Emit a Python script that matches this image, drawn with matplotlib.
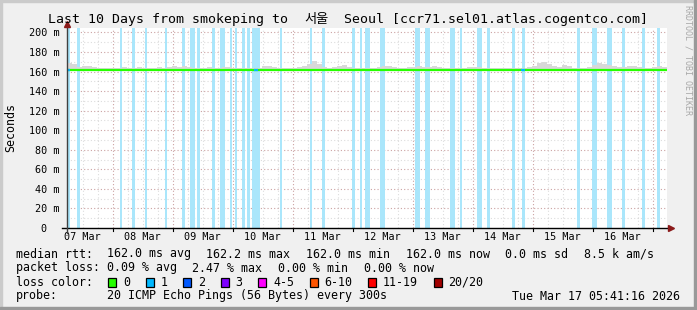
import matplotlib
matplotlib.use("Agg")
import matplotlib.pyplot as plt
from matplotlib.patches import Rectangle
from datetime import datetime, timedelta
import numpy as np

plt.rcParams['font.family'] = ['DejaVu Sans Mono', 'Noto Sans CJK KR']

# ---------------- data ----------------
end_time = datetime(2026, 3, 17, 5, 41, 16)
start_time = end_time - timedelta(days=10)

# loss (1/20) background bars: start offset (hours from start) and width (hours)
loss_start_h = [0.0, 4.0, 21.2, 26.0, 31.2, 39.2, 46.0, 49.2, 52.0, 58.0,
                61.2, 65.2, 67.2, 70.0, 72.0, 74.0, 85.2, 97.2, 102.0, 114.0,
                117.2, 119.2, 125.2, 139.2, 143.2, 153.2, 157.2, 164.0, 168.0, 178.0,
                182.0, 204.0, 210.0, 216.0, 222.0, 230.0, 236.0]
loss_width_h = [1.2, 1.2, 0.8, 1.2, 0.8, 0.8, 1.2, 2.0, 1.2, 1.2,
                2.0, 0.8, 0.8, 1.2, 1.2, 3.2, 0.8, 0.8, 1.2, 1.2,
                0.8, 2.0, 2.0, 2.0, 2.0, 2.0, 0.8, 2.0, 1.2, 1.2,
                1.2, 1.2, 2.0, 2.0, 1.2, 1.2, 1.2]

# smoke (ping spread) top per 2 h step
smoke_step_h = 2
smoke_top = [169, 168, 165, 166, 166, 165, 164, 164, 163.5, 164,
             164, 164.5, 164, 164, 165, 164, 164, 164, 164.5, 164,
             165, 166, 165, 166, 165, 164, 164, 164, 165, 164,
             164, 165, 165, 164, 164, 164, 164, 164, 164, 166,
             166, 165, 164, 164, 164, 164, 165, 166, 168, 171,
             168, 165, 164, 165, 166, 167, 165, 164, 164, 164,
             164, 164, 165, 166, 166, 165, 164, 164, 165, 165,
             166, 165, 165, 166, 165, 164, 164, 164, 164, 164,
             165, 165, 165, 164, 164, 164, 164, 164, 164, 164,
             164, 164, 165, 166, 169, 170, 168, 166, 165, 167,
             166, 164, 164, 164, 165, 167, 169, 168, 167, 166,
             165, 165, 166, 166, 165, 164, 164, 165, 166, 165]
smoke_bottom = 161.4

# median rtt per 6 h step
median_step_h = 6
median_rtt = [162.0] * 40
# spans (hours) where the median line is drawn in loss colour "1"
median_blue_start_h = [0.0, 74.8, 181.6]
median_blue_width_h = [1.2, 1.6, 1.6]

y_ticks = [0, 20, 40, 60, 80, 100, 120, 140, 160, 180, 200]
y_tick_labels = ["0  ", "20 m", "40 m", "60 m", "80 m", "100 m", "120 m",
                 "140 m", "160 m", "180 m", "200 m"]

loss_labels = ["0", "1", "2", "3", "4-5", "6-10", "11-19", "20/20"]
loss_colors = ["#26ff00", "#00b8ff", "#0059ff", "#7e00ff", "#ff00ff",
               "#ff5500", "#ff0000", "#a10000"]

# ---------------- layout helpers ----------------
W, H = 697, 310
def fx(px):
    return px / W
def fy(py):
    return 1 - py / H

fig = plt.figure(figsize=(W / 100, H / 100), dpi=100, facecolor="#f0f0f0")

# frame shading
fig.patches.append(Rectangle((0, 0), fx(2), 1, transform=fig.transFigure, color="#cbcbcb", zorder=0))
fig.patches.append(Rectangle((0, fy(2)), 1, 2 / H, transform=fig.transFigure, color="#cbcbcb", zorder=0))
fig.patches.append(Rectangle((fx(694), 0), 3 / W, 1, transform=fig.transFigure, color="#999999", zorder=0))
fig.patches.append(Rectangle((0, 0), 1, 3 / H, transform=fig.transFigure, color="#999999", zorder=0))

ax = fig.add_axes([fx(67), fy(228), 600 / W, 200 / H])
ax.set_facecolor("white")
for s in ax.spines.values():
    s.set_visible(False)

ax.set_xlim(start_time, end_time)
ax.set_ylim(0, 204.5)

# grid
minor_col = (0.55, 0.55, 0.55, 0.30)
major_col = (0.51, 0.12, 0.12, 0.41)
dash = (0, (1, 2))
t = datetime(start_time.year, start_time.month, start_time.day)
while t <= end_time:
    if t >= start_time:
        ax.axvline(t, color=major_col if t.hour == 0 else minor_col, lw=0.8, ls=dash, zorder=1)
    t += timedelta(hours=6)
for v in range(10, 205, 10):
    ax.axhline(v, color=major_col if v % 20 == 0 else minor_col, lw=0.8, ls=dash, zorder=1)

# loss bars
for s, w in zip(loss_start_h, loss_width_h):
    ax.axvspan(start_time + timedelta(hours=s), start_time + timedelta(hours=s + w),
               color="#aae6fb", lw=0, zorder=2)

# smoke
smoke_t = [start_time + timedelta(hours=i * smoke_step_h) for i in range(len(smoke_top) + 1)]
st = np.array(smoke_top + [smoke_top[-1]], dtype=float)
ax.fill_between(smoke_t, smoke_bottom, st, step="post", color="#d8d8d8", lw=0, zorder=3)

# median line
mt = [start_time + timedelta(hours=i * median_step_h) for i in range(len(median_rtt) + 1)]
mv = median_rtt + [median_rtt[-1]]
ax.step(mt, mv, where="post", color=loss_colors[0], lw=1.6, zorder=4)
for s, w in zip(median_blue_start_h, median_blue_width_h):
    ax.plot([start_time + timedelta(hours=s), start_time + timedelta(hours=s + w)],
            [median_rtt[0], median_rtt[0]], color=loss_colors[1], lw=1.6, zorder=5,
            solid_capstyle="butt")

# axes lines + arrows
ax.plot([-5 / 600, 1 + 2 / 600], [0, 0], transform=ax.transAxes, color="black", lw=1.0, clip_on=False, zorder=6)
ax.plot([0, 0], [-5 / 200, 1 + 2 / 200], transform=ax.transAxes, color="#404040", lw=1.0, clip_on=False, zorder=6)
ax.plot([1 + 4 / 600], [0], transform=ax.transAxes, marker=">", color="#8b1a1a", ms=4.5, clip_on=False, zorder=7)
ax.plot([0], [1 + 4 / 200], transform=ax.transAxes, marker="^", color="#8b1a1a", ms=4.5, clip_on=False, zorder=7)

# major x ticks at midnight
t = datetime(start_time.year, start_time.month, start_time.day) + timedelta(days=1)
while t <= end_time:
    ax.plot([t, t], [-3 / 200, 0], transform=ax.get_xaxis_transform(), color="black", lw=0.8, clip_on=False, zorder=6)
    t += timedelta(days=1)

# x labels at noon
noons = []
t = datetime(start_time.year, start_time.month, start_time.day, 12)
while t <= end_time:
    noons.append(t)
    t += timedelta(days=1)
ax.set_xticks(noons)
ax.set_xticklabels([d.strftime("%d %b") for d in noons], fontsize=7.3)
ax.set_yticks(y_ticks)
ax.set_yticklabels(y_tick_labels, fontsize=7.3)
ax.tick_params(axis="x", length=0, pad=3.0)
ax.tick_params(axis="y", length=0, pad=5.5)

# title
fig.text(fx(48), fy(19), "Last 10 Days from smokeping to", fontsize=9.5, va="center", ha="left")
fig.text(fx(316), fy(19), "서울", fontsize=9.5, va="center", ha="center", family=["Noto Sans CJK KR"])
fig.text(fx(344), fy(19), "Seoul [ccr71.sel01.atlas.cogentco.com]", fontsize=9.5, va="center", ha="left")

fig.text(fx(11), fy(128), "Seconds", rotation=90, fontsize=8.4, va="center", ha="center")
fig.text(fx(688), fy(5), "RRDTOOL / TOBI OETIKER", rotation=270, fontsize=6, va="top", ha="center", color="#a8a8a8")

# legend
fs = 8.4
cw = 7.0
gap = 15.5
def row(y, items, x0=107):
    x = x0
    for it in items:
        fig.text(fx(x), fy(y), it, fontsize=fs, va="center", ha="left")
        x += len(it) * cw + gap

fig.text(fx(16), fy(254), "median rtt:", fontsize=fs, va="center", ha="left")
row(254, ["162.0 ms avg", "162.2 ms max", "162.0 ms min", "162.0 ms now", "0.0 ms sd", "8.5 k am/s"])
fig.text(fx(16), fy(268), "packet loss:", fontsize=fs, va="center", ha="left")
row(268, ["0.09 % avg", "2.47 % max", "0.00 % min", "0.00 % now"])
fig.text(fx(16), fy(282), "loss color:", fontsize=fs, va="center", ha="left")
x = 108
for lab, col in zip(loss_labels, loss_colors):
    fig.patches.append(Rectangle((fx(x), fy(286.5)), 8 / W, 9 / H, transform=fig.transFigure,
                                 facecolor=col, edgecolor="black", lw=0.9))
    fig.text(fx(x + 15), fy(282), lab, fontsize=fs, va="center", ha="left")
    x += 15 + len(lab) * cw + gap
fig.text(fx(16), fy(296), "probe:", fontsize=fs, va="center", ha="left")
fig.text(fx(107), fy(296), "20 ICMP Echo Pings (56 Bytes) every 300s", fontsize=fs, va="center", ha="left")
fig.text(fx(680), fy(296), "Tue Mar 17 05:41:16 2026", fontsize=fs, va="center", ha="right")

fig.savefig("out.png", dpi=100, facecolor=fig.get_facecolor())
